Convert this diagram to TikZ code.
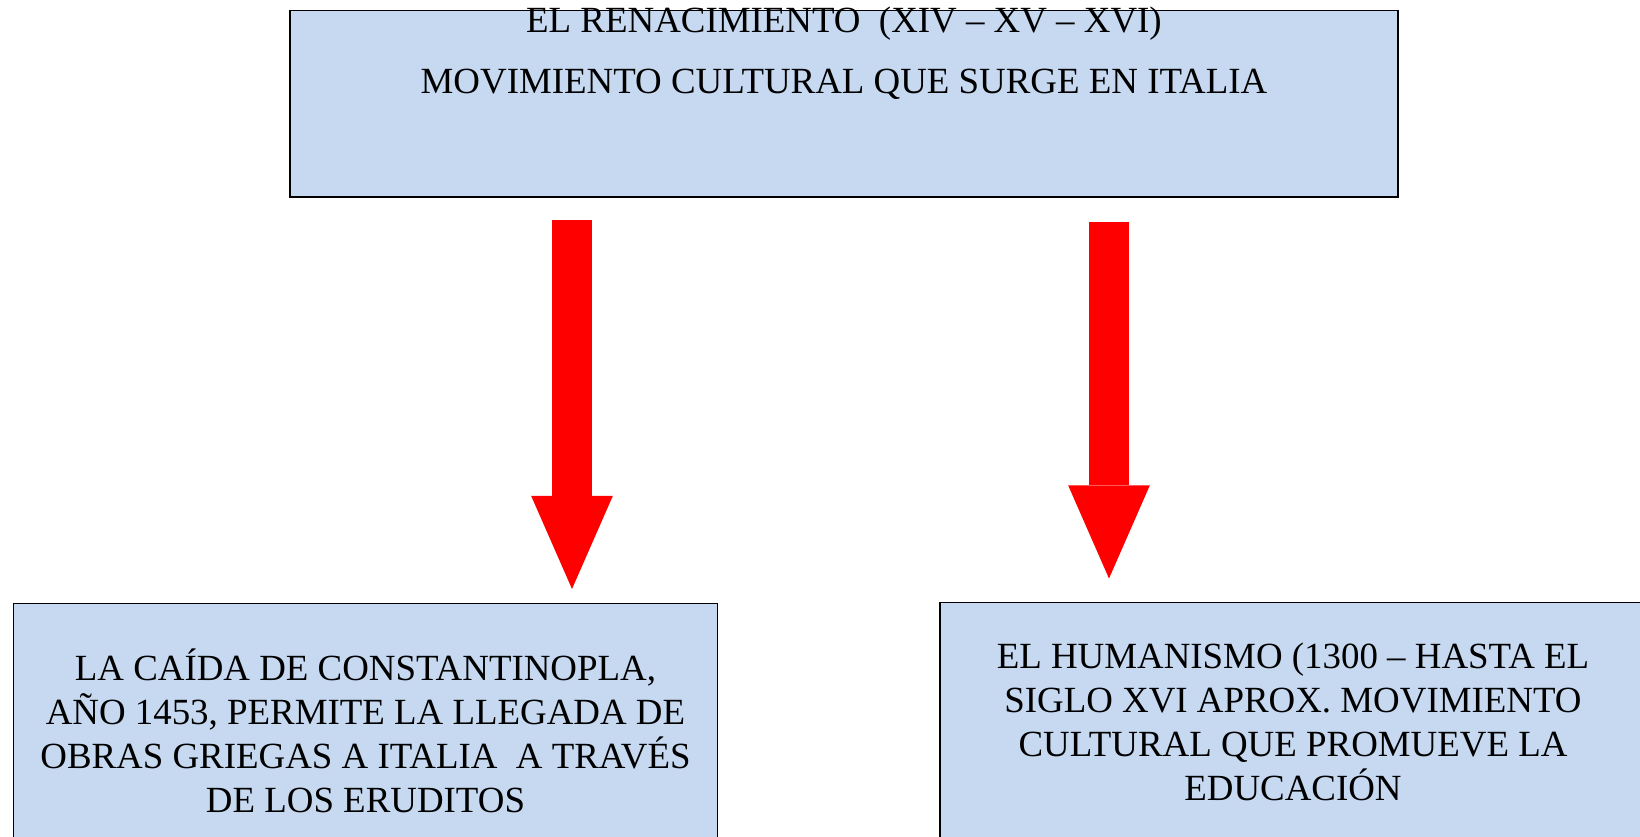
\documentclass[tikz,border=0pt]{standalone}
\usepackage{fontspec}
\setmainfont{Liberation Serif}
\usetikzlibrary{arrows.meta,positioning,calc}
\definecolor{cajaazul}{RGB}{198,217,240}

\tikzset{
  caja/.style={draw=black, line width=0.8pt, fill=cajaazul, inner sep=0pt},
  texto/.style={font=\fontsize{21}{25}\selectfont, align=center, inner sep=0pt},
  flecha/.style={draw=red, line width=23pt,
    -{Triangle[width=46.5pt, length=53pt, line width=0pt]}}
}

\begin{document}
\begin{tikzpicture}[x=0.02cm, y=-0.02cm]
        \clip (0,0) rectangle (1640,837);
        \fill[white] (0,0) rectangle (1640,837);

        % Top box: the Renaissance
        \node[caja, minimum width=22.16cm, minimum height=3.73cm] (renac) at (844,103.75) {};
        \node[texto, anchor=base] (titulo) at (844,33) {EL RENACIMIENTO\ \ (XIV – XV – XVI)};
        \node[texto, anchor=base] (subtitulo) at (844,94) {MOVIMIENTO CULTURAL QUE SURGE EN ITALIA};

        % Bottom left: Constantinople
        \node[caja, minimum width=14.08cm, minimum height=5.53cm] (caida) at (365.5,741.75) {};
        \node[texto] (caidatxt) at (365.5,731) {LA CAÍDA DE CONSTANTINOPLA,\\
          AÑO 1453, PERMITE LA LLEGADA DE\\
          OBRAS GRIEGAS A ITALIA\ \ A TRAVÉS\\
          DE LOS ERUDITOS};

        % Bottom right: Humanism
        \node[caja, minimum width=14.12cm, minimum height=5.55cm] (human) at (1293,741.25) {};
        \node[texto] (humantxt) at (1293,721.5) {EL HUMANISMO (1300 – HASTA EL\\
          SIGLO XVI APROX. MOVIMIENTO\\
          CULTURAL QUE PROMUEVE LA\\
          EDUCACIÓN};

        % Arrows
        \coordinate (f1ini) at (572,219.6);
        \coordinate (f1fin) at (572,589);
        \coordinate (f2ini) at (1109,222);
        \coordinate (f2fin) at (1109,578.5);
        \draw[flecha] (f1ini) -- (f1fin);
        \draw[flecha] (f2ini) -- (f2fin);

\end{tikzpicture}
\end{document}
